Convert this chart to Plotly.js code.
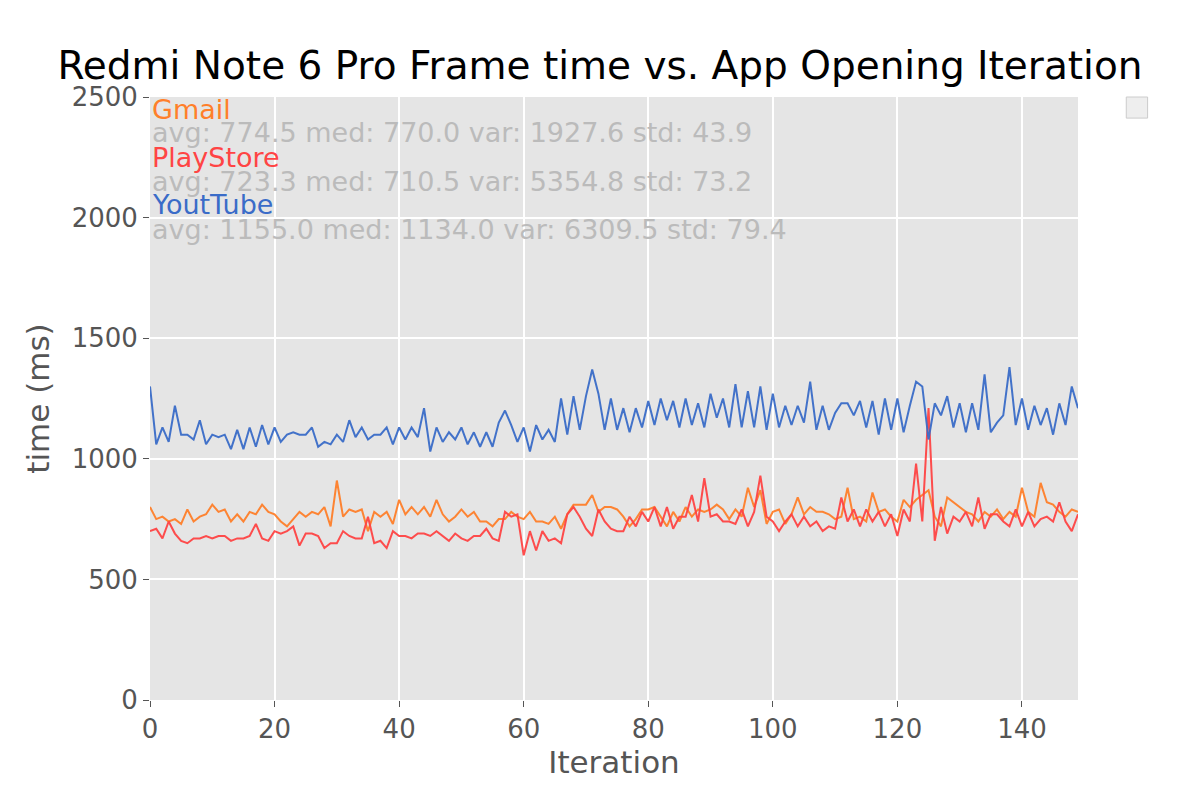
<!DOCTYPE html>
<html><head><meta charset="utf-8">
<script src="https://cdn.plot.ly/plotly-3.0.1.min.js"></script>
<style>body{margin:0}#c{width:1200px;height:800px}</style></head>
<body><div id="c"></div>
<script>
const youtube=[1300,1060,1130,1070,1220,1100,1100,1080,1160,1060,1100,1090,1100,1040,1120,1040,1130,1050,1140,1060,1130,1070,1100,1110,1100,1100,1130,1050,1070,1060,1100,1070,1160,1090,1130,1080,1100,1100,1130,1060,1130,1080,1130,1090,1210,1030,1130,1070,1110,1080,1130,1060,1110,1050,1110,1050,1150,1200,1140,1070,1130,1030,1140,1080,1120,1070,1250,1100,1260,1120,1260,1370,1270,1120,1250,1120,1210,1110,1210,1130,1240,1140,1250,1160,1240,1130,1250,1140,1230,1130,1270,1170,1250,1130,1310,1130,1280,1130,1300,1120,1270,1130,1220,1140,1220,1150,1320,1120,1220,1120,1190,1230,1230,1180,1240,1130,1240,1100,1250,1120,1250,1110,1220,1320,1300,1080,1230,1180,1260,1130,1230,1110,1230,1120,1350,1110,1150,1180,1380,1140,1250,1120,1220,1140,1210,1100,1230,1140,1300,1210];
const gmail=[800,750,760,740,750,730,790,740,760,770,810,780,790,740,770,740,780,770,810,780,770,740,720,750,780,760,780,770,800,720,910,760,790,780,790,700,780,760,780,730,830,770,800,770,800,760,830,770,740,760,790,760,780,740,740,720,750,750,780,760,750,780,740,740,730,760,710,770,810,810,810,850,780,800,800,790,760,720,750,790,790,800,760,720,780,740,800,760,790,780,790,810,790,750,790,760,880,800,870,730,780,790,730,770,840,770,800,780,780,770,750,760,880,750,760,740,860,780,790,760,740,830,800,830,850,870,760,720,840,820,800,780,770,740,780,760,790,750,780,760,880,780,760,900,820,810,780,760,790,780];
const playstore=[700,710,670,740,690,660,650,670,670,680,670,680,680,660,670,670,680,730,670,660,700,690,700,720,640,690,690,680,630,650,650,700,680,670,670,760,650,660,630,700,680,680,670,690,690,680,700,680,660,690,670,660,680,680,710,670,660,780,760,770,600,700,620,700,660,670,650,770,800,760,710,680,790,740,710,700,700,760,720,780,740,800,720,800,710,760,760,850,740,920,760,770,740,740,730,790,720,780,930,760,740,700,740,770,720,760,720,740,700,720,710,840,740,790,720,790,740,780,720,770,680,790,740,980,740,1210,660,800,690,760,740,780,720,840,710,770,770,740,720,790,720,780,720,750,760,740,820,740,700,770];
const names=['Gmail','PlayStore','YoutTube'];
const colors=['#ff7f2a','#f44','#3a6cc8'];
const stats=['avg: 774.5 med: 770.0 var: 1927.6 std: 43.9','avg: 723.3 med: 710.5 var: 5354.8 std: 73.2','avg: 1155.0 med: 1134.0 var: 6309.5 std: 79.4'];
const series=[gmail,playstore,youtube];
const traces=series.map((s,k)=>({x:s.map((_,i)=>i),y:s,type:'scatter',mode:'lines',line:{color:colors[k],width:2},opacity:0.95,showlegend:false}));
const ann=[];
names.forEach((n,k)=>{
 ann.push({xref:'paper',yref:'paper',x:0,y:1-(k*48+12)/603,xanchor:'left',yanchor:'middle',text:n,showarrow:false,font:{size:27,color:colors[k]}});
 ann.push({xref:'paper',yref:'paper',x:0,y:1-(k*48+36)/603,xanchor:'left',yanchor:'middle',text:stats[k],showarrow:false,font:{size:27,color:'#bbb'}});
});
const ax={showgrid:true,gridcolor:'#fff',gridwidth:1.5,zeroline:false,ticks:'outside',ticklen:6,tickcolor:'#555',tickfont:{size:26,color:'#555'},showline:false};
Plotly.newPlot('c',traces,{
 width:1200,height:800,margin:{l:150,r:122,t:97,b:100},
 paper_bgcolor:'#fff',plot_bgcolor:'#e5e5e5',
 font:{family:'DejaVu Sans'},
 title:{text:'Redmi Note 6 Pro Frame time vs. App Opening Iteration',font:{size:39,color:'#000'},x:0.5,xanchor:'center',y:0.918,yanchor:'middle'},
 xaxis:Object.assign({},ax,{range:[0,149],tickvals:[0,20,40,60,80,100,120,140],title:{text:'Iteration',font:{size:31,color:'#555'},standoff:6}}),
 yaxis:Object.assign({},ax,{range:[0,2500],tickvals:[0,500,1000,1500,2000,2500],title:{text:'time (ms)',font:{size:31,color:'#555'},standoff:12}}),
 annotations:ann,
 shapes:[{type:'rect',xref:'paper',yref:'paper',x0:1.052,x1:1.075,y0:0.965,y1:1.0,line:{color:'#ccc',width:1},fillcolor:'#eee'}]
},{displayModeBar:false});
</script></body></html>
